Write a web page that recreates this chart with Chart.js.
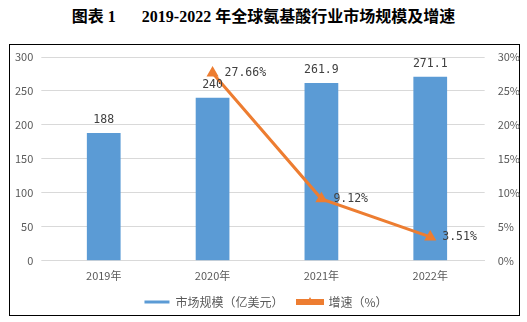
<!DOCTYPE html>
<html>
<head>
<meta charset="utf-8">
<script src="https://cdn.jsdelivr.net/npm/chart.js@4.4.0/dist/chart.umd.min.js"></script>
<style>
  body { margin: 0; background: #fff; width: 527px; height: 322px; overflow: hidden; position: relative; }
  #titulo { position: absolute; left: 0; top: 3px; width: 527px; text-align: center;
    font: bold 16px "Liberation Serif", "Noto Sans CJK SC", serif; color: #000; }
  #titulo span { margin-right: 26px; }
  #marco { position: absolute; left: 9px; top: 44px; width: 509px; height: 270px; border: 1px solid #000; }
  #grafico { position: absolute; left: 0; top: 0; }
</style>
</head>
<body>
<div id="titulo"><span>图表 1</span>2019-2022 年全球氨基酸行业市场规模及增速</div>
<div id="marco"></div>
<canvas id="grafico" width="527" height="322"></canvas>
<script>
// datos
const anios = ["2019年", "2020年", "2021年", "2022年"];
const mercado = [188, 240, 261.9, 271.1];           // 亿美元
const crecimiento = [null, 27.66, 9.12, 3.51];      // %
const etiquetasMercado = ["188", "240", "261.9", "271.1"];

const fuenteCJK = '"Noto Sans CJK SC", "Noto Sans", sans-serif';

// etiquetas de datos encima de barras y al lado de los puntos
const etiquetasPlugin = {
  id: "etiquetas",
  afterDatasetsDraw(chart) {
    const ctx = chart.ctx;
    ctx.save();
    const barras = chart.getDatasetMeta(0).data;
    ctx.fillStyle = "#404040";
    ctx.font = '11.5px "DejaVu Sans Mono", monospace';
    ctx.textAlign = "center";
    ctx.textBaseline = "middle";
    barras.forEach((b, i) => {
      ctx.fillText(etiquetasMercado[i], b.x, b.y - 13);
    });
    const puntos = chart.getDatasetMeta(1).data;
    ctx.textAlign = "left";
    puntos.forEach((p, i) => {
      if (crecimiento[i] == null) return;
      ctx.fillText(crecimiento[i].toFixed(2) + "%", p.x + 12, p.y);
    });
    ctx.restore();
  },
  // triangulo en la leyenda de la linea
  afterDraw(chart) {
    const caja = chart.legend.legendHitBoxes[1];
    if (!caja) return;
    const ctx = chart.ctx;
    const cx = caja.left + 12.5;
    const cy = caja.top + caja.height / 2;
    ctx.save();
    ctx.fillStyle = "#ED7D31";
    ctx.beginPath();
    ctx.moveTo(cx, cy - 5);
    ctx.lineTo(cx + 4.5, cy + 3);
    ctx.lineTo(cx - 4.5, cy + 3);
    ctx.closePath();
    ctx.fill();
    ctx.restore();
  }
};

const config = {
  data: {
    labels: anios,
    datasets: [
      {
        type: "bar",
        label: "市场规模（亿美元）",
        data: mercado,
        backgroundColor: "#5B9BD5",
        borderWidth: 0,
        categoryPercentage: 1,
        barPercentage: 0.31,
        yAxisID: "y",
        order: 2
      },
      {
        type: "line",
        label: "增速（%）",
        data: crecimiento,
        borderColor: "#ED7D31",
        backgroundColor: "#ED7D31",
        borderWidth: 3,
        pointStyle: "triangle",
        pointRadius: 4,
        pointBackgroundColor: "#ED7D31",
        pointBorderColor: "#ED7D31",
        spanGaps: false,
        yAxisID: "y2",
        order: 1
      }
    ]
  },
  options: {
    responsive: false,
    animation: false,
    layout: { padding: { left: 7, right: 2, top: 57, bottom: 4 } },
    plugins: {
      title: { display: false },
      tooltip: { enabled: false },
      legend: {
        position: "bottom",
        labels: {
          boxWidth: 25,
          boxHeight: 3,
          color: "#595959",
          padding: 14,
          font: { family: fuenteCJK, size: 12 },
          sort: (a, b) => a.datasetIndex - b.datasetIndex
        }
      }
    },
    scales: {
      x: {
        grid: { display: false },
        border: { color: "#D9D9D9" },
        ticks: { color: "#595959", font: { family: fuenteCJK, size: 11 }, padding: 0 }
      },
      y: {
        position: "left",
        min: 0,
        max: 300,
        ticks: { stepSize: 50, color: "#595959", font: { family: fuenteCJK, size: 11 }, padding: 8 },
        grid: { color: "#D9D9D9" },
        border: { display: false }
      },
      y2: {
        position: "right",
        min: 0,
        max: 30,
        ticks: {
          stepSize: 5,
          color: "#595959",
          font: { family: fuenteCJK, size: 11 },
          padding: 5,
          callback: v => v + "%"
        },
        grid: { display: false },
        border: { display: false }
      }
    }
  },
  plugins: [etiquetasPlugin]
};

const canvas = document.getElementById("grafico");
window.miGrafico = new Chart(canvas, config);
</script>
</body>
</html>
